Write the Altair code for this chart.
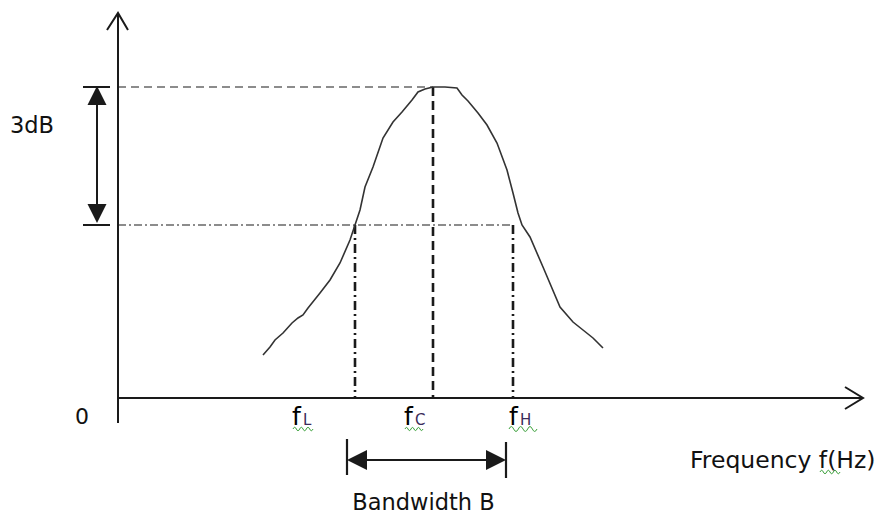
import altair as alt
import pandas as pd

# Band-pass response, frequency in arbitrary units, level in arbitrary units
curve_freq = [145, 152, 157, 165, 174, 180, 185, 190, 194, 198, 202, 212, 222, 232,
              237, 242, 247, 255, 265, 275, 284, 294, 300, 307, 315, 327, 339, 344,
              350, 355, 360, 369, 379, 389, 395, 400, 404, 412, 425, 442, 455, 465,
              475, 480, 485]
curve_level = [43, 51, 58, 65, 75, 80, 83, 90, 95, 100, 105, 118, 135, 158,
               173, 188, 211, 231, 260, 276, 286, 298, 306, 309, 311, 311, 310, 303,
               297, 291, 285, 273, 255, 228, 205, 185, 173, 161, 131, 91, 76, 68,
               60, 55, 50]

# Characteristic frequencies and levels
F_L, F_C, F_H = 237, 315, 395
PEAK, CUTOFF = 311, 173

# Axis extents
X_END, Y_END, Y_LOW = 745, 385, -25

# Label anchors
f_names = ["L", "C", "H"]
f_label_x = [174, 286, 391]
f_sub_x = [185, 297, 402]
LABEL_LEVEL = -27

# Spell-check underlines: centre x, level, width
squiggle_x = [185, 296, 405, 712]
squiggle_y = [-31, -31, -31, -74]
squiggle_w = [20, 18, 28, 20]

# Bandwidth marker
BW_LEFT, BW_RIGHT, BW_LEVEL = 229, 388, -62
DB_ARROW_X = -21

X_DOMAIN = [-118, 762]
Y_DOMAIN = [-117, 398]

xs = alt.Scale(domain=X_DOMAIN, nice=False, zero=False)
ys = alt.Scale(domain=Y_DOMAIN, nice=False, zero=False)
INK = "#1a1a1a"


def X(field="x"):
    return alt.X(f"{field}:Q", scale=xs, axis=None)


def Y(field="y"):
    return alt.Y(f"{field}:Q", scale=ys, axis=None)


def rules(rows, **style):
    df = pd.DataFrame(rows, columns=["x", "x2", "y", "y2"])
    return alt.Chart(df).mark_rule(**style).encode(
        x=X(), x2="x2:Q", y=Y(), y2="y2:Q")


def texts(rows, **style):
    df = pd.DataFrame(rows, columns=["x", "y", "t"])
    return alt.Chart(df).mark_text(**style).encode(x=X(), y=Y(), text="t:N")


# Curve
curve = alt.Chart(pd.DataFrame({"f": curve_freq, "a": curve_level,
                                "i": range(len(curve_freq))})).mark_line(
    color="#333333", strokeWidth=1.6, interpolate="linear").encode(
    x=X("f"), y=Y("a"), order="i:Q")

# Axes
axes = rules([[0, X_END, 0, 0], [0, 0, Y_LOW, Y_END]], color=INK, strokeWidth=2)

chev_rows = []
for k, (px, py) in enumerate([(727, 11), (X_END, 0), (727, -11)]):
    chev_rows.append({"id": "x", "k": k, "x": px, "y": py})
for k, (px, py) in enumerate([(-11, 368), (0, Y_END), (10, 368)]):
    chev_rows.append({"id": "y", "k": k, "x": px, "y": py})
chevrons = alt.Chart(pd.DataFrame(chev_rows)).mark_line(
    color=INK, strokeWidth=2).encode(x=X(), y=Y(), detail="id:N", order="k:Q")

# Guide lines
peak_h = rules([[0, F_C, PEAK, PEAK]], color=INK, strokeWidth=1.2, strokeDash=[8, 5])
peak_v = rules([[F_C, F_C, PEAK, 0]], color=INK, strokeWidth=2.6, strokeDash=[9, 5])
cut_h = rules([[0, F_H, CUTOFF, CUTOFF]], color=INK, strokeWidth=1.2,
              strokeDash=[8, 3, 2, 3])
cut_v = rules([[F_L, F_L, CUTOFF, 0], [F_H, F_H, CUTOFF, 0]], color=INK,
              strokeWidth=2.6, strokeDash=[9, 4, 2, 4])

# 3 dB marker
db_ticks = rules([[-35, -8, PEAK, PEAK], [-35, -8, CUTOFF, CUTOFF]],
                 color=INK, strokeWidth=2)
db_shaft = rules([[DB_ARROW_X, DB_ARROW_X, PEAK - 10, CUTOFF + 10]],
                 color=INK, strokeWidth=2)
UP = "M0,-1L1,1L-1,1Z"
DOWN = "M0,1L1,-1L-1,-1Z"
LEFT = "M-1,0L1,-1L1,1Z"
RIGHT = "M1,0L-1,-1L-1,1Z"
WAVE = "M-1,0Q-0.833,-0.35,-0.667,0T-0.333,0T0,0T0.333,0T0.667,0T1,0"
db_heads = alt.Chart(pd.DataFrame({
    "x": [DB_ARROW_X, DB_ARROW_X], "y": [PEAK - 8.5, CUTOFF + 11.5],
    "s": [UP, DOWN]})).mark_point(
    filled=True, color=INK, opacity=1, size=361).encode(
    x=X(), y=Y(), shape=alt.Shape("s:N", scale=None))

# Bandwidth marker
bw_bars = rules([[BW_LEFT, BW_LEFT, -41, -77], [BW_RIGHT, BW_RIGHT, -44, -80]],
                color=INK, strokeWidth=2.2)
bw_shaft = rules([[BW_LEFT + 10, BW_RIGHT - 10, BW_LEVEL, BW_LEVEL]],
                 color=INK, strokeWidth=2)
bw_heads = alt.Chart(pd.DataFrame({
    "x": [BW_LEFT + 10, BW_RIGHT - 10], "y": [BW_LEVEL, BW_LEVEL],
    "s": [LEFT, RIGHT]})).mark_point(
    filled=True, color=INK, opacity=1, size=400).encode(
    x=X(), y=Y(), shape=alt.Shape("s:N", scale=None))

# Wavy underlines
squiggles = alt.Chart(pd.DataFrame({
    "x": squiggle_x, "y": squiggle_y,
    "s": [w * w for w in squiggle_w]})).mark_point(
    shape=WAVE, filled=False, color="#3aa03a", strokeWidth=1, opacity=1).encode(
    x=X(), y=Y(), size=alt.Size("s:Q", scale=None))

FONT = "DejaVu Sans"
TXT = "#111111"

labels = texts([[-108, 265, "3dB"]], font=FONT, fontSize=22.5, color=TXT,
               align="left", baseline="alphabetic")
freq_label = texts([[572, -70, "Frequency f(Hz)"]], font=FONT, fontSize=23.5,
                   color=TXT, align="left", baseline="alphabetic")
zero = texts([[-36, -26, "0"]], font=FONT, fontSize=22, color=TXT,
             align="center", baseline="alphabetic")
bw_label = texts([[(BW_LEFT + BW_RIGHT) / 2 - 3, -112, "Bandwidth B"]],
                 font=FONT, fontSize=22.5, color=TXT, align="center",
                 baseline="alphabetic")

f_main = texts([[x, LABEL_LEVEL, "f"] for x in f_label_x], font=FONT,
               fontSize=25, color="#000000", align="left", baseline="alphabetic")
f_sub = texts([[x, LABEL_LEVEL, n] for x, n in zip(f_sub_x, f_names)],
              font=FONT, fontSize=15, color="#3b2b5a", align="left",
              baseline="alphabetic")

chart = alt.layer(
    peak_h, cut_h, peak_v, cut_v, curve, axes, chevrons,
    db_ticks, db_shaft, db_heads, bw_bars, bw_shaft, bw_heads, squiggles,
    labels, freq_label, zero, bw_label, f_main, f_sub,
).properties(
    width=880, height=515,
    autosize=alt.AutoSizeParams(type="none"),
    padding=0, background="white",
).configure_view(strokeWidth=0)

chart.save("out.html", embed_options={"renderer": "svg", "actions": False})
